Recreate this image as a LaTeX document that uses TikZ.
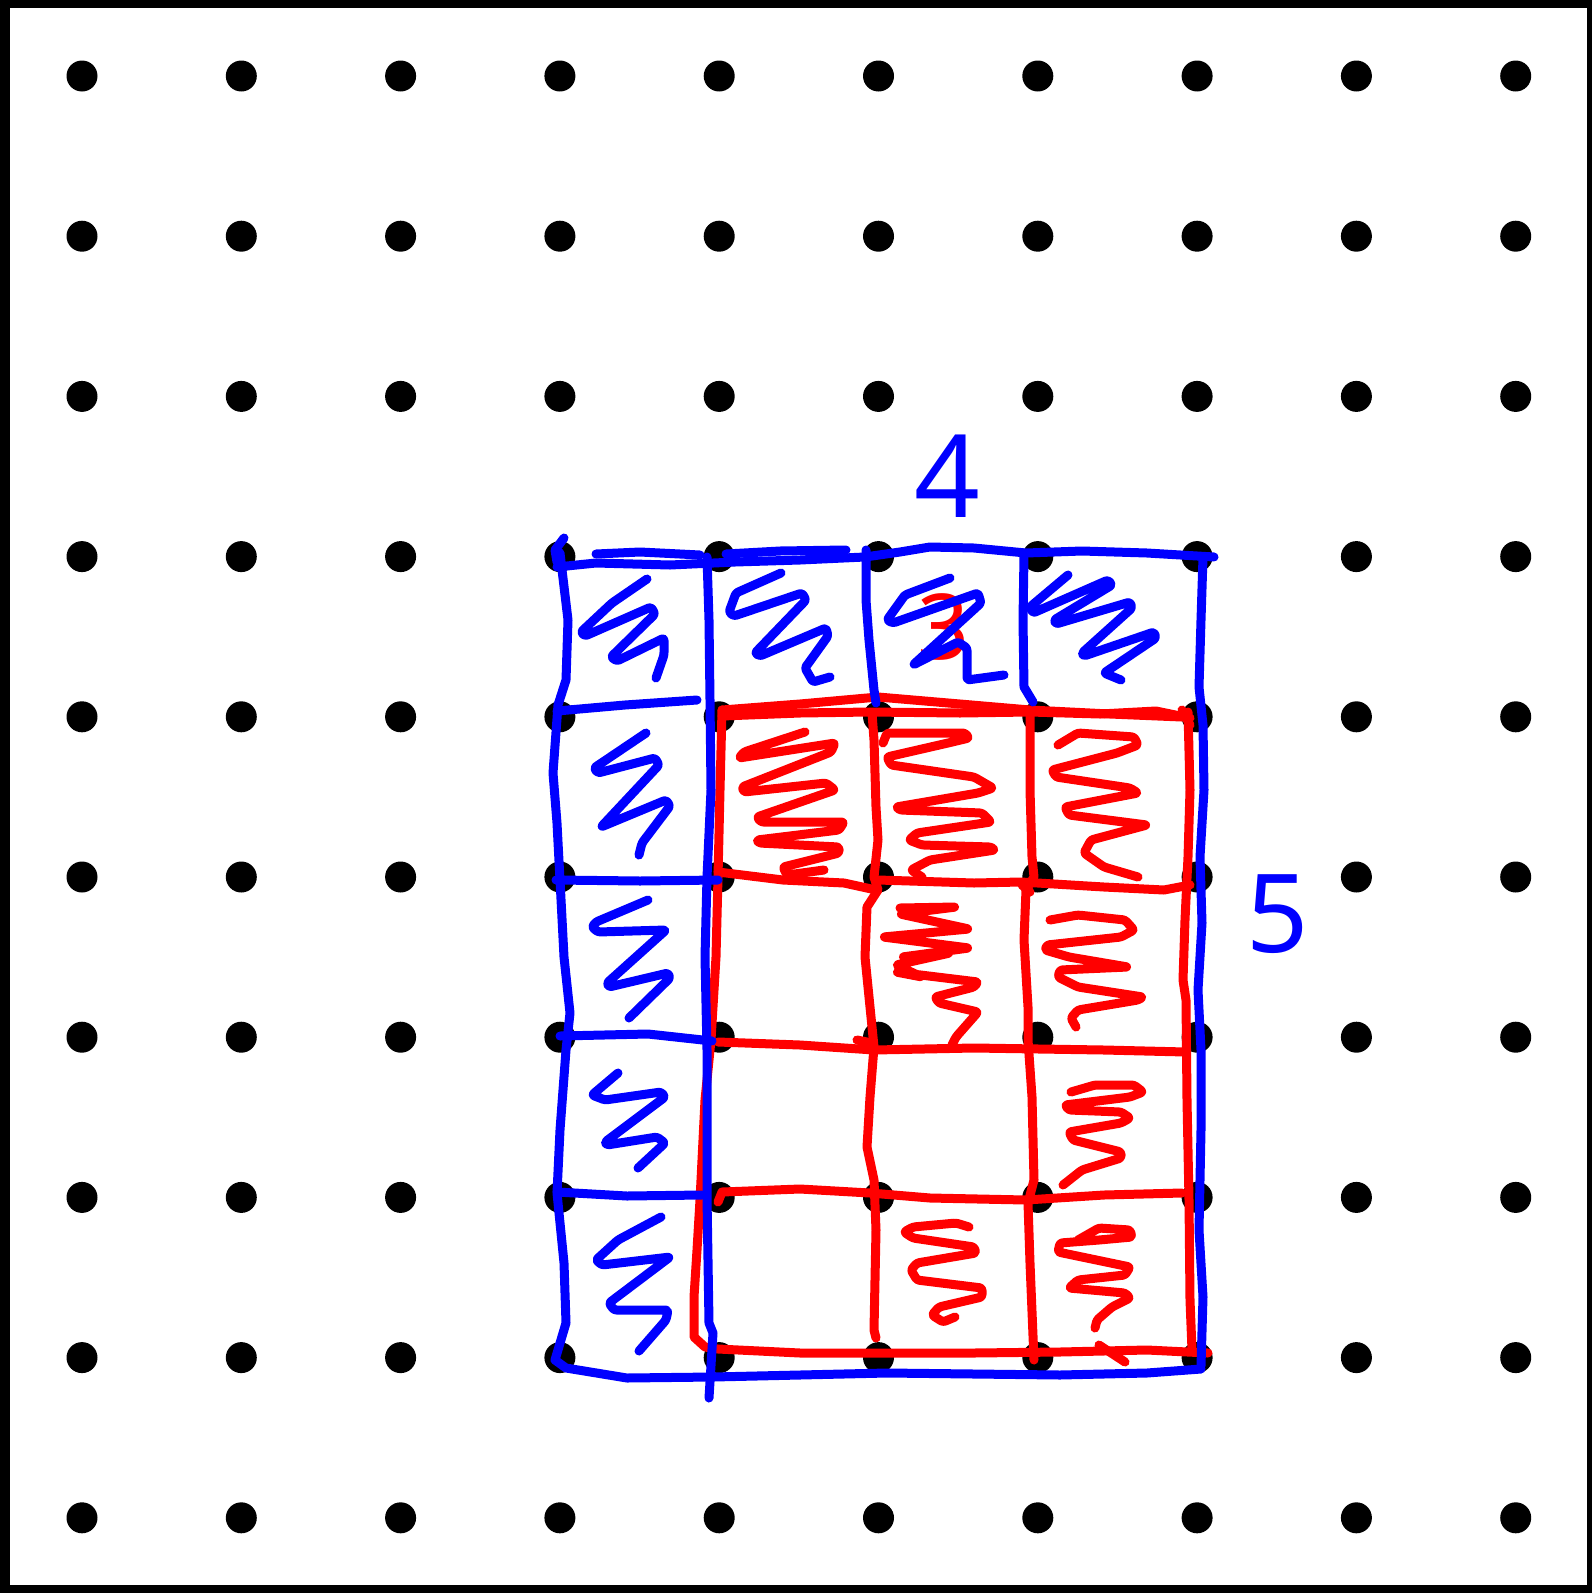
\documentclass[tikz,border=0pt]{standalone}
\usepackage{fontspec}
\newfontfamily\digitfont{Noto Sans}
\definecolor{penblue}{RGB}{0,0,255}
\definecolor{penred}{RGB}{255,0,0}
\tikzset{
  pen/.style={line width=9pt, line cap=round, line join=round},
  bluepen/.style={pen, draw=penblue},
  redpen/.style={pen, draw=penred},
  scrib/.style={rounded corners=2.5pt},
  digit/.style={inner sep=0pt, font=\digitfont\fontsize{#1}{#1}\selectfont},
}
\begin{document}
\begin{tikzpicture}[x=1pt,y=-1pt]
\useasboundingbox (0,0) rectangle (1592,1593);
% frame
\fill[black] (0,0) rectangle (1592,1593);
\fill[white] (10,8) rectangle (1587,1585);
% dot grid
\foreach \i in {0,...,9}
  \foreach \k in {0,...,9}
    \fill[black] (82+159.3*\i, 76+160.2*\k) circle[radius=15.5pt];

% red digit under blue scribble
\node[digit=91, text=penred] (three) at (944,627) {3};

% ---------- red figure ----------
\draw[redpen] (722,710) -- (800,704) -- (878,697) -- (960,704) -- (1030,710) -- (1110,714) -- (1182,717);
\draw[redpen] (722,716) -- (800,713) -- (870,712) -- (960,713) -- (1030,712) -- (1100,714) -- (1156,711) -- (1190,718);
\draw[redpen] (1182,710) -- (1190,725);
\draw[redpen] (722,710) -- (720,790) -- (718,877) -- (716,957) -- (711,1040) -- (705,1100) -- (700,1200) -- (697,1250) -- (694,1297) -- (694,1337) -- (705,1347) -- (718,1349) -- (800,1353) -- (887,1353) -- (974,1353) -- (1060,1352) -- (1147,1350) -- (1208,1353);
\draw[redpen] (1188,712) -- (1190,790) -- (1188,857) -- (1185,920) -- (1183,980) -- (1186,1000) -- (1187,1100) -- (1189,1200) -- (1190,1300) -- (1192,1350);
\draw[redpen] (1099,1345) -- (1125,1362);
% red inner lines
\draw[redpen] (718,872) -- (783,880) -- (844,883) -- (876,890);
\draw[redpen] (878,880) -- (974,883) -- (1021,882) -- (1104,887) -- (1164,890) -- (1190,885);
\draw[redpen] (718,1042) -- (800,1045) -- (874,1050) -- (974,1048) -- (1104,1050) -- (1186,1052);
\draw[redpen] (857,1040) -- (872,1043);
\draw[redpen] (718,1202) -- (722,1192) -- (800,1189) -- (870,1193) -- (930,1198) -- (1026,1200) -- (1104,1195) -- (1182,1193);
\draw[redpen] (872,713) -- (874,740) -- (876,807) -- (878,840) -- (874,877) -- (878,890) -- (867,907) -- (865,957) -- (870,1007) -- (874,1047) -- (870,1097) -- (867,1147) -- (874,1180) -- (876,1230) -- (874,1330) -- (876,1338);
\draw[redpen] (1030,713) -- (1030,790) -- (1032,857) -- (1034,877) -- (1026,890) -- (1024,940) -- (1028,1007) -- (1028,1040) -- (1032,1097) -- (1034,1180) -- (1028,1203) -- (1030,1263) -- (1034,1360);
\draw[redpen] (1022,885) -- (1030,892);
% red scribbles
\draw[redpen,scrib] (805,732) -- (744,752) -- (739,758) -- (835,743) -- (831,752) -- (742,787) -- (744,792) -- (826,783) -- (835,790) -- (757,817) -- (761,822) -- (844,822) -- (839,830) -- (757,840) -- (759,843) -- (839,847) -- (839,853) -- (783,867) -- (787,875) -- (824,870);
\draw[redpen,scrib] (883,743) -- (887,733) -- (965,733) -- (969,738) -- (948,743) -- (887,757) -- (891,765) -- (974,777) -- (993,788) -- (978,793) -- (896,807) -- (900,810) -- (982,813) -- (991,822) -- (917,833) -- (909,840) -- (922,845) -- (991,847) -- (995,850) -- (930,860) -- (911,870) -- (922,877);
\draw[redpen,scrib] (1058,745) -- (1078,733) -- (1134,737) -- (1138,745) -- (1117,753) -- (1052,770) -- (1056,777) -- (1130,788) -- (1138,793) -- (1065,807) -- (1069,815) -- (1147,825) -- (1091,840) -- (1084,853) -- (1104,867) -- (1138,877);
\draw[redpen,scrib] (900,908) -- (956,907) -- (900,914) -- (969,929) -- (883,937) -- (969,948) -- (902,957) -- (950,953) -- (896,965) -- (922,977) -- (896,972) -- (978,982) -- (974,987) -- (935,997) -- (939,1003) -- (978,1012) -- (956,1037) -- (952,1045);
\draw[redpen,scrib] (1050,920) -- (1078,915) -- (1125,920) -- (1134,930) -- (1121,937) -- (1047,945) -- (1045,950) -- (1069,957) -- (1128,967) -- (1060,970) -- (1058,977) -- (1078,987) -- (1143,997) -- (1138,1000) -- (1078,1010) -- (1071,1018) -- (1076,1027);
\draw[redpen,scrib] (1071,1092) -- (1095,1085) -- (1134,1085) -- (1143,1092) -- (1130,1097) -- (1065,1105) -- (1069,1110) -- (1121,1112) -- (1130,1118) -- (1121,1123) -- (1069,1132) -- (1073,1140) -- (1121,1152) -- (1121,1158) -- (1082,1170) -- (1063,1185);
\draw[redpen,scrib] (969,1227) -- (956,1223) -- (913,1227) -- (904,1232) -- (913,1238) -- (974,1247) -- (976,1253) -- (917,1263) -- (911,1270) -- (917,1280) -- (982,1288) -- (982,1297) -- (939,1307) -- (932,1315) -- (943,1322) -- (955,1317);
\draw[redpen,scrib] (1078,1240) -- (1099,1228) -- (1130,1230) -- (1132,1237) -- (1099,1240) -- (1060,1243) -- (1058,1252) -- (1082,1257) -- (1130,1267) -- (1125,1275) -- (1078,1280) -- (1069,1288) -- (1125,1293) -- (1130,1298) -- (1112,1307) -- (1097,1320) -- (1095,1328);

% ---------- blue figure ----------
\draw[bluepen] (564,538) -- (555,550) -- (557,562);
\draw[bluepen] (557,567) -- (596,563) -- (670,565) -- (735,562) -- (800,560) -- (865,557) -- (900,552) -- (930,547) -- (974,548) -- (1026,553) -- (1082,551) -- (1147,553) -- (1214,557);
\draw[bluepen] (596,554) -- (640,552) -- (700,555);
\draw[bluepen] (726,554) -- (780,551) -- (846,550);
\draw[bluepen] (560,553) -- (568,620) -- (566,680) -- (558,705) -- (553,773) -- (557,823) -- (560,880) -- (564,957) -- (570,1013) -- (566,1050) -- (560,1130) -- (557,1193) -- (564,1263) -- (566,1323) -- (555,1360) -- (566,1368) -- (627,1378) -- (713,1377) -- (800,1375) -- (887,1373) -- (974,1374) -- (1060,1375) -- (1147,1373) -- (1201,1369);
\draw[bluepen] (1203,557) -- (1201,620) -- (1199,687) -- (1203,725) -- (1204,790) -- (1200,857) -- (1202,923) -- (1198,990) -- (1201,1050) -- (1201,1130) -- (1199,1230) -- (1203,1297) -- (1201,1366);
\draw[bluepen] (707,557) -- (709,620) -- (710,700) -- (711,790) -- (707,877) -- (705,957) -- (707,1050) -- (707,1197) -- (709,1323) -- (713,1333) -- (709,1398);
\draw[bluepen] (557,711) -- (625,705) -- (697,700);
\draw[bluepen] (556,880) -- (640,881) -- (718,880);
\draw[bluepen] (560,1036) -- (648,1034) -- (712,1041);
\draw[bluepen] (557,1192) -- (627,1196) -- (702,1195);
\draw[bluepen] (866,550) -- (866,600) -- (869,640) -- (874,690) -- (876,703);
\draw[bluepen] (1024,555) -- (1023,620) -- (1024,687) -- (1033,702);
% blue scribbles
\draw[bluepen,scrib] (647,579) -- (612,603) -- (581,632) -- (585,636) -- (651,607) -- (655,614) -- (611,657) -- (617,661) -- (664,638) -- (664,655) -- (656,678);
\draw[bluepen,scrib] (781,573) -- (736,593) -- (729,612) -- (734,616) -- (802,593) -- (806,600) -- (755,653) -- (760,656) -- (826,628) -- (828,636) -- (805,668) -- (813,682) -- (830,677);
\draw[bluepen,scrib] (950,578) -- (905,595) -- (887,620) -- (893,623) -- (978,593) -- (981,603) -- (913,665) -- (958,642) -- (967,648) -- (967,680) -- (1004,675);
\draw[bluepen,scrib] (1068,575) -- (1030,607) -- (1033,613) -- (1108,580) -- (1112,585) -- (1054,620) -- (1056,624) -- (1130,602) -- (1132,608) -- (1082,653) -- (1084,656) -- (1154,632) -- (1156,638) -- (1104,673) -- (1121,680);
\draw[bluepen,scrib] (646,733) -- (594,768) -- (598,773) -- (655,758) -- (659,765) -- (601,827) -- (666,800) -- (670,806) -- (642,843) -- (639,855);
\draw[bluepen,scrib] (648,900) -- (596,922) -- (592,927) -- (598,932) -- (666,930) -- (607,983) -- (609,987) -- (668,973) -- (670,978) -- (629,1018);
\draw[bluepen,scrib] (618,1073) -- (592,1095) -- (605,1100) -- (661,1092) -- (665,1097) -- (605,1142) -- (607,1145) -- (657,1137) -- (665,1143) -- (638,1168);
\draw[bluepen,scrib] (661,1217) -- (618,1240) -- (596,1260) -- (602,1265) -- (670,1257) -- (609,1303) -- (614,1310) -- (668,1310) -- (666,1320) -- (639,1351);

% labels
\node[digit=115, text=penblue] (four) at (947,476) {4};
\node[digit=109, text=penblue] (five) at (1278,914) {5};
\end{tikzpicture}
\end{document}
